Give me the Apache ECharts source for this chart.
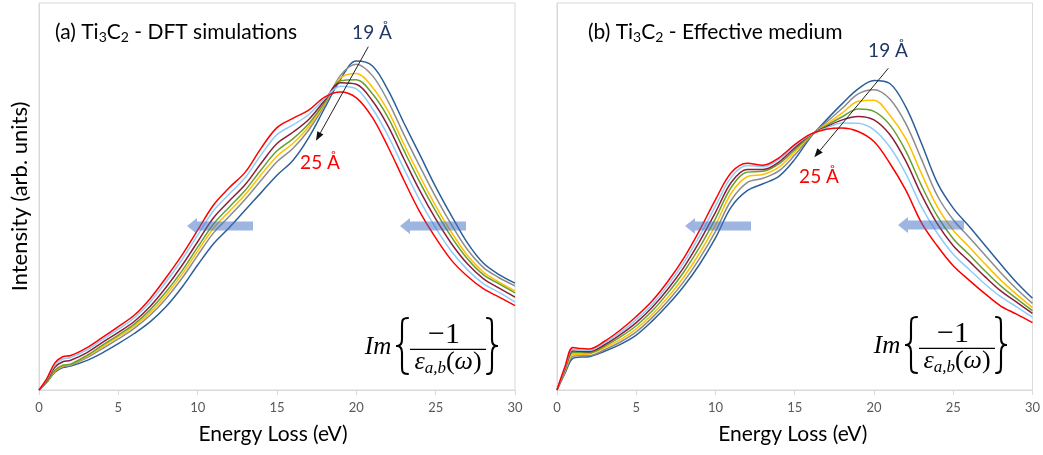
<!DOCTYPE html>
<html>
<head>
<meta charset="utf-8">
<script src="https://cdn.jsdelivr.net/npm/echarts@6/dist/echarts.min.js"></script>
<style>
html,body{margin:0;padding:0;background:#fff;}
#chart{width:1043px;height:455px;}
</style>
</head>
<body>
<div id="chart"></div>
<script>
// ---------- data ----------
const energy = [0,0.5,1,1.5,2,3,4,5,6,7,8,9,10,11,12,13,14,15,16,17,18,19,20,21,22,23,24,25,26,27,28,29,30];
const spacingLabels = ['19 Å','20 Å','21 Å','22 Å','23 Å','24 Å','25 Å'];
const xTicks = [0,5,10,15,20,25,30];

// (a) DFT simulations
const dft19 = [0,2.0,4.6,5.8,6.2,7.6,9.6,12.0,14.6,17.6,21.5,26.5,32.3,37.8,42.0,46.5,51.0,55.5,59.3,65.2,72.8,80.3,85.0,83.8,77.5,69.0,60.8,52.5,45.0,38.0,32.8,29.8,27.6];
const dft20 = [0,2.1,4.8,6.0,6.4,8.3,10.7,13.2,15.9,19.3,23.6,28.8,34.8,40.6,44.9,49.3,54.2,59.0,62.4,67.2,73.6,81.3,84.2,81.3,74.6,66.0,57.8,49.9,42.7,36.3,31.7,29.0,26.9];
const dft21 = [0,2.1,4.9,6.2,6.6,8.6,11.2,13.8,16.5,20.0,24.5,29.8,35.9,41.8,46.2,50.5,55.6,60.4,63.7,68.0,74.0,80.6,81.8,78.3,72.1,63.5,55.3,47.6,40.7,34.8,30.5,27.9,25.6];
const dft22 = [0,2.2,5.1,6.4,6.7,8.9,11.6,14.2,17.0,20.7,25.3,30.7,36.9,42.9,47.3,51.6,56.9,61.8,64.9,68.8,74.3,79.9,80.2,76.6,70.4,61.9,53.7,46.2,39.5,33.9,29.8,27.4,25.1];
const dft23 = [0,2.55,5.9,7.3,7.7,9.6,12.3,14.9,17.7,21.6,26.5,32.1,38.3,44.5,48.9,53.1,58.6,63.7,66.6,69.9,74.8,79.4,79.0,74.8,68.2,59.7,51.5,44.2,37.8,32.6,28.8,26.3,24.0];
const dft24 = [0,2.8,6.5,8.0,8.4,10.3,13.0,15.7,18.6,22.7,27.9,33.6,40.0,46.3,50.7,54.9,60.8,66.0,68.5,71.2,75.3,78.5,77.8,72.8,65.7,57.2,49.0,41.9,35.8,31.1,27.5,25.2,22.7];
const dft25 = [0,3.0,7.0,8.6,8.9,10.9,13.6,16.4,19.3,23.6,29.0,34.8,41.3,47.8,52.3,56.3,62.5,67.8,70.2,72.3,75.7,77.0,75.5,70.5,62.8,54.2,46.0,39.3,33.5,29.4,26.2,24.0,21.8];

// (b) Effective medium
const ema19 = [0,4.3,8.2,8.5,8.6,10.0,11.8,14.2,17.8,22.0,26.8,32.5,39.3,47.3,51.5,53.3,55.2,59.6,65.3,69.8,74.0,77.8,80.0,79.2,73.2,63.7,53.5,47.0,42.3,37.4,32.5,27.8,23.7];
const ema20 = [0,4.6,8.7,8.9,8.9,10.4,12.4,15.0,18.7,23.0,28.0,34.0,41.0,49.1,53.6,54.7,56.6,60.7,65.5,69.2,72.8,76.5,77.6,75.2,68.9,59.6,50.2,44.0,39.5,34.9,30.3,26.1,22.4];
const ema21 = [0,4.9,9.1,9.2,9.3,10.9,13.0,15.8,19.5,24.0,29.2,35.4,42.6,50.9,55.1,55.7,57.6,61.5,65.7,68.7,71.6,74.6,74.9,71.0,65.0,55.9,47.3,41.3,37.0,32.6,28.4,24.7,21.3];
const ema22 = [0,5.2,9.6,9.6,9.6,11.3,13.7,16.6,20.4,25.1,30.5,36.9,44.3,52.4,56.3,56.5,58.4,62.1,65.8,68.3,70.6,72.6,72.0,68.5,61.8,52.8,44.9,39.1,35.0,30.8,26.9,23.6,20.5];
const ema23 = [0,5.4,10.1,10.0,9.9,11.7,14.3,17.4,21.3,26.1,31.7,38.4,45.9,53.7,57.0,57.0,58.9,62.6,65.9,68.0,69.8,70.7,69.8,66.0,59.2,50.4,42.9,37.3,33.3,29.3,25.6,22.7,19.8];
const ema24 = [0,5.7,10.5,10.3,10.3,12.2,14.9,18.2,22.1,27.1,32.9,39.8,47.5,55.0,58.0,57.7,59.6,63.1,66.0,67.7,69.0,68.9,67.2,62.8,56.0,47.3,40.5,35.1,31.2,27.4,24.1,21.5,18.8];
const ema25 = [0,6.0,11.0,10.7,10.6,12.6,15.5,19.0,23.0,28.1,34.1,41.3,49.2,56.2,58.6,58.1,60.0,63.4,66.1,67.4,67.7,66.8,64.2,58.6,51.7,43.2,37.2,32.1,28.4,24.9,21.7,19.6,17.4];

// ---------- styling ----------
const lineColors = ['#2C5F9A','#8C8C8C','#FFC000','#66A033','#8E1C3A','#8ECDF7','#FF0000'];
const FONT = 'Lato, "Open Sans", sans-serif';
const SERIF = '"Liberation Serif", "DejaVu Serif", serif';
const dftSets = [dft19,dft20,dft21,dft22,dft23,dft24,dft25];
const emaSets = [ema19,ema20,ema21,ema22,ema23,ema24,ema25];

function buildSeries(sets, idx, tag) {
  return sets.map((vals, k) => ({
    name: tag + ' ' + spacingLabels[k],
    type: 'line',
    xAxisIndex: idx, yAxisIndex: idx,
    data: energy.map((e, i) => [e, vals[i]]),
    smooth: 0.35,
    showSymbol: false, symbol: 'none',
    lineStyle: { width: 1.5, color: lineColors[k] },
    itemStyle: { color: lineColors[k] },
    z: 2 + k,
    animation: false
  }));
}

function makeX(idx) {
  return {
    type: 'value', gridIndex: idx,
    min: xTicks[0], max: xTicks[xTicks.length - 1], interval: 5,
    axisLine: { show: true, lineStyle: { color: '#D9D9D9', width: 1 } },
    axisTick: { show: true, length: 5, lineStyle: { color: '#D9D9D9' } },
    axisLabel: { color: '#595959', fontSize: 13, fontFamily: FONT, margin: 11 },
    splitLine: { show: false },
    name: 'Energy Loss (eV)', nameLocation: 'middle', nameGap: 34,
    nameTextStyle: { fontSize: 21, fontFamily: FONT, color: '#000', padding: idx === 0 ? [0, 8, 0, 0] : [0, 4, 0, 0] }
  };
}
function makeY(idx) {
  return {
    type: 'value', gridIndex: idx, min: 0, max: 100,
    axisLine: { show: true, lineStyle: { color: '#D9D9D9', width: 1 } },
    axisTick: { show: false }, axisLabel: { show: false }, splitLine: { show: false },
    name: idx === 0 ? 'Intensity (arb. units)' : '',
    nameLocation: 'middle', nameGap: 8, nameRotate: 90,
    nameTextStyle: { fontSize: 22, fontFamily: FONT, color: '#000' }
  };
}

// ---------- annotations ----------
const g = [];
function text(x, y, str, style) {
  g.push({ type: 'text', x: x, y: y, z: 100, silent: true,
    style: Object.assign({ text: str, fill: '#000', fontFamily: FONT, fontSize: 18,
      textAlign: 'center', textVerticalAlign: 'middle', align: 'center', verticalAlign: 'middle' }, style) });
}
function lineArrow(x1, y1, x2, y2) {
  const dx = x2 - x1, dy = y2 - y1, L = Math.sqrt(dx * dx + dy * dy);
  const ux = dx / L, uy = dy / L, hl = 9, hw = 3.5;
  const bx = x2 - ux * hl, by = y2 - uy * hl;
  g.push({ type: 'line', z: 100, silent: true, shape: { x1: x1, y1: y1, x2: bx, y2: by }, style: { stroke: '#222', lineWidth: 1 } });
  g.push({ type: 'polygon', z: 100, silent: true,
    shape: { points: [[x2, y2], [bx - uy * hw, by + ux * hw], [bx + uy * hw, by - ux * hw]] },
    style: { fill: '#111' } });
}
function blockArrow(tipX, cy) {
  g.push({ type: 'polygon', z: 100, silent: true,
    shape: { points: [[tipX, cy], [tipX + 10, cy - 8], [tipX + 10, cy - 4.5], [tipX + 66, cy - 4.5],
                      [tipX + 66, cy + 4.5], [tipX + 10, cy + 4.5], [tipX + 10, cy + 8]] },
    style: { fill: 'rgba(68,114,196,0.52)' } });
}
function brace(xo, xs, xt, yt, yb) {
  const ym = (yt + yb) / 2, h = yb - yt;
  const st = { stroke: '#000', lineWidth: 2.1, fill: null, lineCap: 'round' };
  const segs = [
    { type: 'bezierCurve', shape: { x1: xo, y1: yt, cpx1: xs, cpy1: yt, cpx2: xs, cpy2: yt + h * 0.04, x2: xs, y2: yt + h * 0.16 } },
    { type: 'line', shape: { x1: xs, y1: yt + h * 0.16, x2: xs, y2: ym - h * 0.12 } },
    { type: 'bezierCurve', shape: { x1: xs, y1: ym - h * 0.12, cpx1: xs, cpy1: ym - h * 0.02, cpx2: (xs + xt) / 2, cpy2: ym, x2: xt, y2: ym } },
    { type: 'bezierCurve', shape: { x1: xt, y1: ym, cpx1: (xs + xt) / 2, cpy1: ym, cpx2: xs, cpy2: ym + h * 0.02, x2: xs, y2: ym + h * 0.12 } },
    { type: 'line', shape: { x1: xs, y1: ym + h * 0.12, x2: xs, y2: yb - h * 0.16 } },
    { type: 'bezierCurve', shape: { x1: xs, y1: yb - h * 0.16, cpx1: xs, cpy1: yb - h * 0.04, cpx2: xs, cpy2: yb, x2: xo, y2: yb } }
  ];
  segs.forEach(s => { s.z = 100; s.silent = true; s.style = st; g.push(s); });
}
function formula(dx, dy) {
  text(378 + dx, 347 + dy, 'Im', { fontFamily: SERIF, fontStyle: 'italic', fontSize: 25 });
  brace(408 + dx, 402 + dx, 397 + dx, 318 + dy, 374 + dy);
  brace(487 + dx, 492 + dx, 497 + dx, 318 + dy, 374 + dy);
  text(444 + dx, 335 + dy, '\u22121', { fontFamily: SERIF, fontSize: 30 });
  g.push({ type: 'line', z: 100, silent: true, shape: { x1: 410 + dx, y1: 349.3 + dy, x2: 486 + dx, y2: 349.3 + dy },
    style: { stroke: '#000', lineWidth: 1.3 } });
  text(448 + dx, 362.5 + dy, '{e|ε}{s|a,b}{p|(}{e|ω}{p|)}', {
    fontFamily: SERIF, fontSize: 26, lineHeight: 30,
    rich: {
      e: { fontFamily: SERIF, fontStyle: 'italic', fontSize: 26, lineHeight: 30 },
      s: { fontFamily: SERIF, fontStyle: 'italic', fontSize: 17, lineHeight: 22, verticalAlign: 'bottom' },
      p: { fontFamily: SERIF, fontSize: 26, lineHeight: 30 }
    }
  });
}

const subRich = { s: { fontFamily: FONT, fontSize: 14, lineHeight: 12, verticalAlign: 'bottom', fill: '#000' },
                  n: { fontFamily: FONT, fontSize: 21, lineHeight: 24, fill: '#000' } };
text(55, 32, '{n|(a) Ti}{s|3}{n|C}{s|2}{n| - DFT simulations}', { textAlign: 'left', align: 'left', fontSize: 21, lineHeight: 24, rich: subRich });
text(588, 32, '{n|(b) Ti}{s|3}{n|C}{s|2}{n| - Effective medium}', { textAlign: 'left', align: 'left', fontSize: 21, lineHeight: 24, rich: subRich });

text(372, 32.5, '19 Å', { fill: '#1F3864', fontSize: 19 });
text(320, 163, '25 Å', { fill: '#FF0000', fontSize: 19 });
text(888, 51, '19 Å', { fill: '#1F3864', fontSize: 19 });
text(819, 177, '25 Å', { fill: '#FF0000', fontSize: 19 });

lineArrow(368.3, 46.7, 316, 140.7);
lineArrow(888.3, 68.3, 814.3, 157.3);

blockArrow(187, 226);
blockArrow(400, 226);
blockArrow(685, 226);
blockArrow(898, 225);

formula(0, 0);
formula(509, -1);

// ---------- chart ----------
const chart = echarts.init(document.getElementById('chart'), null, { renderer: 'canvas' });
chart.setOption({
  animation: false,
  backgroundColor: '#fff',
  textStyle: { fontFamily: FONT },
  grid: [
    { left: 39, top: 3, width: 476, height: 387, show: true, borderColor: '#D9D9D9', borderWidth: 1, backgroundColor: 'transparent' },
    { left: 557, top: 3, width: 476, height: 387, show: true, borderColor: '#D9D9D9', borderWidth: 1, backgroundColor: 'transparent' }
  ],
  xAxis: [makeX(0), makeX(1)],
  yAxis: [makeY(0), makeY(1)],
  series: buildSeries(dftSets, 0, 'DFT').concat(buildSeries(emaSets, 1, 'EMA')),
  graphic: { elements: g }
});
</script>
</body>
</html>
